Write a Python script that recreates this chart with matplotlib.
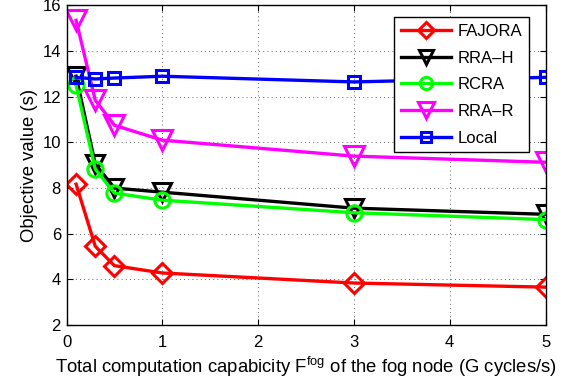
import numpy as np
import matplotlib
matplotlib.use('Agg')
import matplotlib.pyplot as plt

plt.rcParams['font.family'] = ['Liberation Sans', 'DejaVu Sans']
plt.rcParams['mathtext.default'] = 'regular'

# Datos
x_fog = [0.1, 0.3, 0.5, 1, 3, 5]
fajora = [8.17, 5.45, 4.6, 4.28, 3.84, 3.66]
rra_h = [12.9, 9.05, 8.0, 7.82, 7.12, 6.85]
rcra = [12.5, 8.83, 7.78, 7.47, 6.92, 6.62]
rra_r = [15.35, 11.85, 10.75, 10.1, 9.4, 9.13]
local = [12.85, 12.78, 12.82, 12.9, 12.65, 12.85]

series = [
    ('FAJORA', fajora, 'red', 'D', 10),
    ('RRA\u2013H', rra_h, 'black', 'v', 13),
    ('RCRA', rcra, '#00ff00', 'o', 11),
    ('RRA\u2013R', rra_r, 'magenta', 'v', 14),
    ('Local', local, 'blue', 's', 9),
]

fig = plt.figure(figsize=(5.74, 3.85), dpi=100)
ax = fig.add_axes([0.1159, 0.1558, 0.8345, 0.830])

for nombre, valores, color, marcador, tam in series:
    ax.plot(x_fog, valores, color=color, marker=marcador, markersize=tam,
            markerfacecolor='none', markeredgewidth=2.2, linewidth=2.4,
            label=nombre)

ax.set_xlim(0, 5)
ax.set_ylim(2, 16)
ax.set_xticks(range(0, 6))
ax.set_yticks(range(2, 17, 2))
ax.grid(True, linestyle=(0, (1, 4)), color='black', linewidth=0.6, alpha=0.8)
ax.tick_params(direction='in', top=True, right=True, labelsize=12, length=4)
ax.tick_params(axis='x', pad=7)
ax.tick_params(axis='y', pad=4)
for s in ax.spines.values():
    s.set_linewidth(1.0)

ax.set_ylabel('Objective value (s)', fontsize=13.3, labelpad=3)
ax.set_xlabel('Total computation capabicity F$^{fog}$ of the fog node (G cycles/s)',
              fontsize=13.3, labelpad=4)

leg = ax.legend(loc='upper right', fontsize=12, fancybox=False, framealpha=1,
                edgecolor='black', handlelength=3, handletextpad=0.4,
                borderaxespad=0, labelspacing=0.7, markerscale=0.8,
                bbox_to_anchor=(0.9656, 0.963))
leg.get_frame().set_linewidth(1.0)

plt.savefig('out.png', dpi=100)
